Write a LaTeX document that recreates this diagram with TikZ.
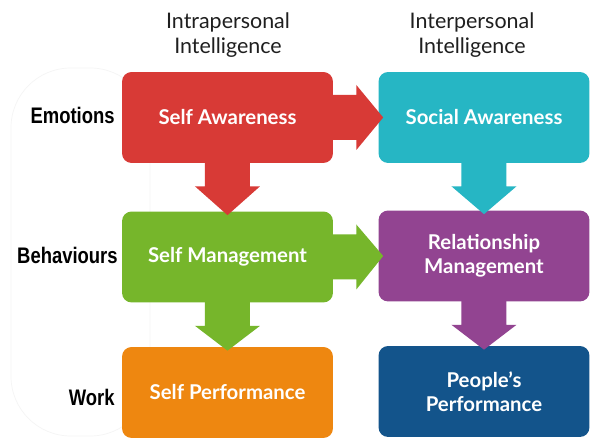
\documentclass[tikz,border=0pt]{standalone}
\usepackage{fontspec}
\setmainfont{Lato}
\newfontfamily\rowfont[FakeStretch=0.82]{Liberation Sans}
\usetikzlibrary{calc}

\definecolor{awareRed}{RGB}{216,58,54}
\definecolor{socialCyan}{RGB}{38,182,196}
\definecolor{manageGreen}{RGB}{118,182,43}
\definecolor{relPurple}{RGB}{146,68,145}
\definecolor{perfOrange}{RGB}{238,135,16}
\definecolor{peopleBlue}{RGB}{19,84,139}

% fat arrows between the boxes (units are pixels, y grows downwards)
\def\downblock[#1](#2)(#3){\fill[#1] ($(#2.south)+(-22.5,-2)$) -- ($(#2.south)+(-22.5,23)$) -- ($(#2.south)+(-32.5,23)$) -- ($(#3.north)+(0,4)$) -- ($(#2.south)+(32.5,23)$) -- ($(#2.south)+(22.5,23)$) -- ($(#2.south)+(22.5,-2)$) -- cycle;}
\def\rightblock[#1](#2)(#3){\fill[#1] ($(#2.east)+(-2,-22.5)$) -- ($(#2.east)+(23,-22.5)$) -- ($(#2.east)+(23,-32.5)$) -- ($(#3.west)+(5,0)$) -- ($(#2.east)+(23,32.5)$) -- ($(#2.east)+(23,22.5)$) -- ($(#2.east)+(-2,22.5)$) -- cycle;}

\tikzset{
  skill/.style={rounded corners=5.5pt, minimum width=4.22cm, minimum height=1.82cm,
    inner sep=0pt, text=white, align=center,
    font=\bfseries\fontsize{11.6}{13.6}\selectfont},
  heading/.style={align=center, inner sep=0pt, text=black!88,
    font=\fontsize{12.2}{14.2}\selectfont},
  rowlabel/.style={anchor=east, inner sep=0pt, font=\rowfont\bfseries\fontsize{12.8}{14}\selectfont}
}

\begin{document}
\begin{tikzpicture}[x=0.02cm, y=-0.02cm]
			%%%%% START %%%%%
			
			\useasboundingbox (0, 0) rectangle (600, 439);
			\fill[white] (0, 0) rectangle (600, 439);
			
			% faint pill behind the row labels
			\draw[black!4, line width=0.4pt, rounded corners=34pt] (11, 68) rectangle (150, 436);
			
			% column headings
			\node[heading] (intra) at (228, 35) {Intrapersonal\\Intelligence};
			\node[heading] (inter) at (472, 35) {Interpersonal\\Intelligence};
			
			% the six boxes
			\node[skill, fill=awareRed] (selfaware) at (227.5, 117.5) {Self Awareness};
			\node[skill, fill=socialCyan] (socialaware) at (484, 117.5) {Social Awareness};
			\node[skill, fill=manageGreen] (selfmanage) at (227.5, 257) {Self Management};
			\node[skill, fill=relPurple] (relmanage) at (484, 256) {Relationship\\Management};
			\node[skill, fill=perfOrange] (selfperf) at (227.5, 392.5) {Self Performance};
			\node[skill, fill=peopleBlue] (peopleperf) at (484, 391.5) {People's\\Performance};
			
			% arrows
			\rightblock[awareRed](selfaware)(socialaware);
			\downblock[awareRed](selfaware)(selfmanage);
			\downblock[socialCyan](socialaware)(relmanage);
			\rightblock[manageGreen](selfmanage)(relmanage);
			\downblock[manageGreen](selfmanage)(selfperf);
			\downblock[relPurple](relmanage)(peopleperf);
			
			% row labels
			\node[rowlabel] (emotions) at (115, 115) {Emotions};
			\node[rowlabel] (behaviours) at (118, 255) {Behaviours};
			\node[rowlabel] (work) at (115, 397) {Work};
			
			%%%%% END %%%%%
		\end{tikzpicture}
\end{document}
